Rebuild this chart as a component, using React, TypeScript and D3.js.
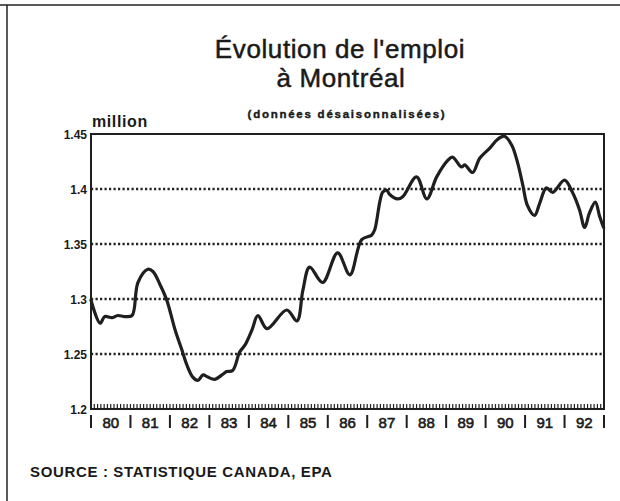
import React from "react";
import * as d3 from "d3";

// Decimal years since Jan 1980 and employment (millions)
const times = [
  0.0, 0.23, 0.35, 0.53, 0.68, 0.86, 1.04, 1.19, 1.44, 1.57, 1.75, 1.92,
  2.13, 2.3, 2.43, 2.58, 2.71, 2.84, 2.96, 3.14, 3.32, 3.44, 3.59, 3.77,
  3.9, 4.08, 4.23, 4.46, 4.96, 5.22, 5.37, 5.54, 5.87, 6.25, 6.56, 6.86,
  7.11, 7.19, 7.39, 7.49, 7.57, 7.77, 7.9, 8.25, 8.51, 8.76, 9.04, 9.16,
  9.39, 9.47, 9.67, 9.85, 10.1, 10.3, 10.48, 10.66, 10.81, 10.94, 11.06,
  11.24, 11.37, 11.54, 11.7, 12.0, 12.2, 12.38, 12.51, 12.63, 12.78, 12.89, 12.99,
];
const values = [
  1.299, 1.278, 1.284, 1.283, 1.285, 1.284, 1.285, 1.315, 1.327, 1.325, 1.313, 1.299,
  1.272, 1.254, 1.24, 1.229, 1.226, 1.231, 1.229, 1.227, 1.231, 1.234, 1.235, 1.252,
  1.258, 1.272, 1.285, 1.273, 1.29, 1.28, 1.308, 1.329, 1.315, 1.342, 1.322, 1.354,
  1.358, 1.363, 1.397, 1.399, 1.395, 1.391, 1.393, 1.411, 1.391, 1.411, 1.426, 1.429,
  1.42, 1.422, 1.415, 1.428, 1.437, 1.445, 1.448, 1.44, 1.424, 1.404, 1.385,
  1.376, 1.387, 1.401, 1.397, 1.408, 1.397, 1.381, 1.365, 1.378, 1.388, 1.375, 1.365,
];
const yTicks = [1.2, 1.25, 1.3, 1.35, 1.4, 1.45];
const yTickLabels = ["1.2", "1.25", "1.3", "1.35", "1.4", "1.45"];
const gridValues = [1.25, 1.3, 1.35, 1.4];
const yearLabels = ["80", "81", "82", "83", "84", "85", "86", "87", "88", "89", "90", "91", "92"];

const W = 620;
const H = 501;
const L = 91, R = 604, T = 134, B = 409;

export default function App() {
  const x = d3.scaleLinear().domain([0, yearLabels.length]).range([L, R]);
  const y = d3.scaleLinear().domain([1.2, 1.45]).range([B, T]);
  const pts: [number, number][] = times.map((t, i) => [t, values[i]]);
  const line = d3
    .line<[number, number]>()
    .x((d) => x(d[0]))
    .y((d) => y(d[1]))
    .curve(d3.curveCatmullRom.alpha(0.5));
  const months = d3.range(0, yearLabels.length * 12 + 1).map((m) => m / 12);
  const font = "'Liberation Sans', Arial, Helvetica, sans-serif";
  const ink = "#1a1a1a";

  return (
    <svg
      width={W}
      height={H}
      viewBox={`0 0 ${W} ${H}`}
      style={{ position: "absolute", left: 0, top: 0, background: "#fff" }}
      fontFamily={font}
    >
      <rect x={0} y={0} width={W} height={H} fill="#fff" />
      {/* outer frame */}
      <line x1={0} x2={W} y1={5} y2={5} stroke="#222" strokeWidth={1.5} />
      <line x1={7} x2={7} y1={5} y2={H} stroke="#222" strokeWidth={1.5} />

      {/* titles */}
      <text x={340} y={58} textAnchor="middle" fontSize={26} letterSpacing={0.6} fill={ink} stroke={ink} strokeWidth={0.5}>
        Évolution de l'emploi
      </text>
      <text x={341} y={87} textAnchor="middle" fontSize={26} letterSpacing={0.6} fill={ink} stroke={ink} strokeWidth={0.5}>
        à Montréal
      </text>
      <text x={347} y={118} textAnchor="middle" fontSize={11.5} fontWeight="bold" letterSpacing={1.75} fill={ink} stroke={ink} strokeWidth={0.4}>
        (données désaisonnalisées)
      </text>
      <text x={92} y={127} fontSize={16} fontWeight="bold" letterSpacing={0.6} fill={ink}>
        million
      </text>

      {/* grid */}
      {gridValues.map((v) => (
        <line
          key={v}
          x1={L}
          x2={R}
          y1={y(v)}
          y2={y(v)}
          stroke="#222"
          strokeWidth={2.3}
          strokeDasharray="2.2,2.3"
        />
      ))}

      {/* y labels */}
      {yTicks.map((v, i) => (
        <text
          key={v}
          x={87}
          y={y(v) + 5}
          textAnchor="end"
          fontSize={12}
          fontWeight="bold"
          fill={ink}
        >
          {yTickLabels[i]}
        </text>
      ))}

      {/* monthly ticks */}
      {months.map((m, i) => (
        <line
          key={i}
          x1={x(m)}
          x2={x(m)}
          y1={B}
          y2={B - 5}
          stroke="#222"
          strokeWidth={1.2}
        />
      ))}

      {/* series */}
      <path d={line(pts) || ""} fill="none" stroke="#1f1f1f" strokeWidth={3.2} strokeLinejoin="round" strokeLinecap="round" />

      {/* frame of the plot */}
      <path
        d={`M${L},${B} L${L},${T} L${R},${T} L${R},${B} Z`}
        fill="none"
        stroke="#1f1f1f"
        strokeWidth={2}
      />

      {/* year axis */}
      {d3.range(0, yearLabels.length + 1).map((k) => (
        <line key={"s" + k} x1={x(k)} x2={x(k)} y1={415} y2={428} stroke="#1f1f1f" strokeWidth={2} />
      ))}
      {yearLabels.map((lab, k) => (
        <text
          key={lab}
          x={x(k + 0.5)}
          y={428}
          textAnchor="middle"
          fontSize={15}
          fill={ink}
          stroke={ink}
          strokeWidth={0.6}
        >
          {lab}
        </text>
      ))}

      <text x={30} y={477} fontSize={15} fontWeight="bold" letterSpacing={0.65} fill={ink}>
        SOURCE : STATISTIQUE CANADA, EPA
      </text>
    </svg>
  );
}
